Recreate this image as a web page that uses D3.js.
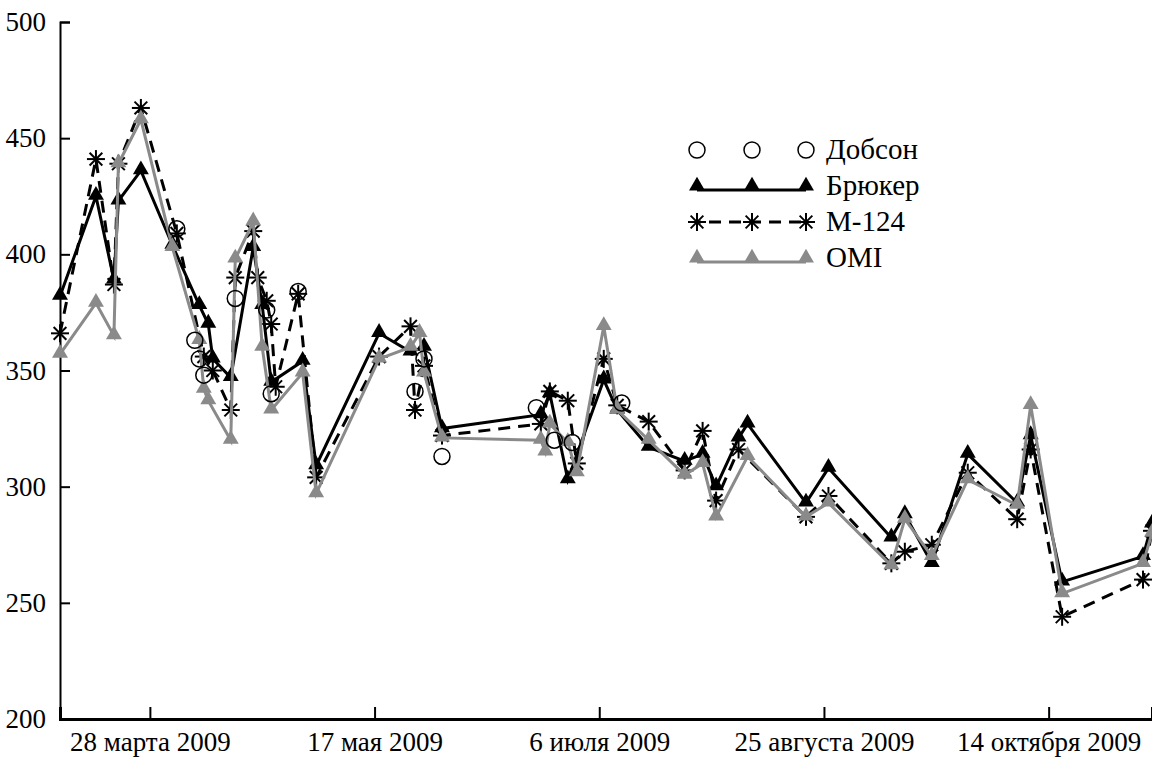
<!DOCTYPE html>
<html>
<head>
<meta charset="utf-8">
<script src="https://cdn.jsdelivr.net/npm/d3@7"></script>
<style>
  body { margin: 0; background: #fff; }
  text { font-family: "Liberation Serif", "Times New Roman", serif; fill: #000; }
</style>
</head>
<body>
<div class="chart"></div>
<script>
// --- data ---
var tickDates = ["2009-03-28", "2009-05-17", "2009-07-06", "2009-08-25", "2009-10-14"];
var tickLabels = ["28 марта 2009", "17 мая 2009", "6 июля 2009", "25 августа 2009", "14 октября 2009"];
var yTicks = [200, 250, 300, 350, 400, 450, 500];

var dobsonDates = ["2009-04-03", "2009-04-07", "2009-04-08", "2009-04-09", "2009-04-16", "2009-04-23", "2009-04-24",
    "2009-04-30", "2009-05-26", "2009-05-28", "2009-06-01", "2009-06-22", "2009-06-26", "2009-06-30", "2009-07-11"];
var dobsonValues = [411, 363, 355, 348, 381, 376, 340, 384, 341, 355, 313, 334, 320, 319, 336];

var brukerDates = ["2009-03-08", "2009-03-16", "2009-03-20", "2009-03-21", "2009-03-26", "2009-04-02", "2009-04-08",
    "2009-04-10", "2009-04-11", "2009-04-15", "2009-04-20", "2009-04-22", "2009-04-24", "2009-05-01", "2009-05-04",
    "2009-05-18", "2009-05-25", "2009-05-28", "2009-06-01", "2009-06-23", "2009-06-25", "2009-06-29", "2009-07-07",
    "2009-07-10", "2009-07-17", "2009-07-25", "2009-07-29", "2009-08-01", "2009-08-06", "2009-08-08", "2009-08-21",
    "2009-08-26", "2009-09-09", "2009-09-12", "2009-09-18", "2009-09-26", "2009-10-07", "2009-10-10", "2009-10-17",
    "2009-11-04", "2009-11-06"];
var brukerValues = [382, 425, 389, 423, 436, 404, 378, 370, 355, 347, 403, 378, 345, 354, 309,
    366, 358, 360, 325, 331, 340, 303, 346, 333, 317, 311, 314, 300, 321, 327, 293,
    308, 278, 288, 267, 314, 293, 322, 259, 270, 284];

var m124Dates = ["2009-03-08", "2009-03-16", "2009-03-20", "2009-03-21", "2009-03-26", "2009-04-03", "2009-04-09",
    "2009-04-11", "2009-04-15", "2009-04-16", "2009-04-20", "2009-04-21", "2009-04-23", "2009-04-24", "2009-04-25",
    "2009-04-30", "2009-05-04", "2009-05-18", "2009-05-25", "2009-05-26", "2009-05-28", "2009-06-01", "2009-06-23",
    "2009-06-25", "2009-06-29", "2009-07-01", "2009-07-07", "2009-07-10", "2009-07-17", "2009-07-25", "2009-07-29",
    "2009-08-01", "2009-08-06", "2009-08-21", "2009-08-26", "2009-09-09", "2009-09-12", "2009-09-18", "2009-09-26",
    "2009-10-07", "2009-10-10", "2009-10-17", "2009-11-04", "2009-11-06"];
var m124Values = [366, 441, 387, 439, 463, 409, 356, 350, 333, 390, 410, 390, 380, 370, 343,
    383, 304, 356, 369, 333, 352, 322, 327, 341, 337, 310, 355, 335, 328, 307, 324,
    294, 316, 287, 296, 267, 272, 275, 306, 286, 316, 244, 260, 281];

var omiDates = ["2009-03-08", "2009-03-16", "2009-03-20", "2009-03-21", "2009-03-26", "2009-04-02", "2009-04-08",
    "2009-04-09", "2009-04-10", "2009-04-15", "2009-04-16", "2009-04-20", "2009-04-22", "2009-04-24", "2009-05-01",
    "2009-05-04", "2009-05-18", "2009-05-25", "2009-05-27", "2009-05-28", "2009-06-01", "2009-06-23", "2009-06-24",
    "2009-06-25", "2009-06-29", "2009-07-01", "2009-07-07", "2009-07-10", "2009-07-17", "2009-07-25", "2009-07-29",
    "2009-08-01", "2009-08-08", "2009-08-21", "2009-08-26", "2009-09-09", "2009-09-12", "2009-09-18", "2009-09-26",
    "2009-10-07", "2009-10-10", "2009-10-17", "2009-11-04", "2009-11-06"];
var omiValues = [357, 379, 365, 439, 458, 403, 363, 342, 337, 320, 398, 414, 360, 333, 349,
    297, 355, 360, 366, 349, 321, 320, 315, 327, 319, 306, 369, 333, 320, 305, 310,
    287, 313, 287, 293, 266, 286, 270, 303, 292, 335, 254, 267, 280];

var legendNames = ["Добсон", "Брюкер", "М-124", "OMI"];

// --- layout ---
var W = 1152, H = 760;
var parse = d3.timeParse("%Y-%m-%d");
var grey = "#8a8a8a";

var x = d3.scaleTime()
    .domain([parse("2009-03-08"), parse("2009-11-06")])
    .range([60, 1152]);
var y = d3.scaleLinear()
    .domain([200, 500])
    .range([719, 22]);

var svg = d3.select(".chart").append("svg")
    .attr("width", W)
    .attr("height", H);

function pts(dates, values) {
    return dates.map(function (d, i) { return { date: parse(d), value: values[i] }; });
}
var dobson = pts(dobsonDates, dobsonValues),
    bruker = pts(brukerDates, brukerValues),
    m124 = pts(m124Dates, m124Values),
    omi = pts(omiDates, omiValues);

// axes
var yAxis = d3.axisLeft(y).tickValues(yTicks).tickSize(-10).tickPadding(14).tickFormat(d3.format("d"));
var gy = svg.append("g").attr("transform", "translate(60,0)").call(yAxis);
gy.select(".domain").attr("stroke", "#000").attr("stroke-width", 2);
gy.selectAll(".tick line").attr("stroke", "#000").attr("stroke-width", 2)
    .filter(function (d) { return d === 200; }).remove();
gy.selectAll(".tick text").style("font-size", "27px").style("font-family", "Liberation Serif");

var xAxis = d3.axisBottom(x).tickValues(tickDates.map(parse)).tickSize(-12).tickPadding(13)
    .tickFormat(function (d, i) { return tickLabels[i]; });
var gx = svg.append("g").attr("transform", "translate(0,719)").call(xAxis);
gx.select(".domain").attr("stroke", "#000").attr("stroke-width", 3);
gx.selectAll(".tick line").attr("stroke", "#000").attr("stroke-width", 2);
gx.selectAll(".tick text").style("font-size", "27px").style("font-family", "Liberation Serif");

// markers
var triPath = d3.symbol().type(d3.symbolTriangle).size(110);

function drawStar(g, cx, cy, r) {
    [0, 45, 90, 135].forEach(function (a) {
        var rad = a * Math.PI / 180;
        g.append("line")
            .attr("x1", cx - r * Math.cos(rad)).attr("y1", cy - r * Math.sin(rad))
            .attr("x2", cx + r * Math.cos(rad)).attr("y2", cy + r * Math.sin(rad))
            .attr("stroke", "#000").attr("stroke-width", 2);
    });
}

var line = d3.line()
    .x(function (d) { return x(d.date); })
    .y(function (d) { return y(d.value); });

// Брюкер
svg.append("path").datum(bruker)
    .attr("d", line).attr("fill", "none").attr("stroke", "#000").attr("stroke-width", 3);
svg.append("g").selectAll("path").data(bruker).enter().append("path")
    .attr("d", triPath)
    .attr("transform", function (d) { return "translate(" + x(d.date) + "," + (y(d.value) - 1) + ")"; })
    .attr("fill", "#000");

// М-124
svg.append("path").datum(m124)
    .attr("d", line).attr("fill", "none").attr("stroke", "#000").attr("stroke-width", 3)
    .attr("stroke-dasharray", "12,8");
var gs = svg.append("g");
m124.forEach(function (d) { drawStar(gs, x(d.date), y(d.value), 9); });

// OMI
svg.append("path").datum(omi)
    .attr("d", line).attr("fill", "none").attr("stroke", grey).attr("stroke-width", 3);
svg.append("g").selectAll("path").data(omi).enter().append("path")
    .attr("d", triPath)
    .attr("transform", function (d) { return "translate(" + x(d.date) + "," + (y(d.value) - 1) + ")"; })
    .attr("fill", grey);

// Добсон
svg.append("g").selectAll("circle").data(dobson).enter().append("circle")
    .attr("cx", function (d) { return x(d.date); })
    .attr("cy", function (d) { return y(d.value); })
    .attr("r", 8)
    .attr("fill", "none")
    .attr("stroke", "#000")
    .attr("stroke-width", 1.5);

// legend
var lg = svg.append("g");
var lx = [697, 752, 806];
legendNames.forEach(function (name, i) {
    var ly = 150 + i * 36;
    if (i === 1 || i === 3) {
        lg.append("line").attr("x1", lx[0]).attr("x2", lx[2]).attr("y1", ly + 4).attr("y2", ly + 4)
            .attr("stroke", i === 1 ? "#000" : grey).attr("stroke-width", 3);
    }
    if (i === 2) {
        lg.append("line").attr("x1", lx[0]).attr("x2", lx[2]).attr("y1", ly).attr("y2", ly)
            .attr("stroke", "#000").attr("stroke-width", 3).attr("stroke-dasharray", "12,8")
            .attr("stroke-dashoffset", -12);
    }
    lx.forEach(function (px) {
        if (i === 0) {
            lg.append("circle").attr("cx", px).attr("cy", ly).attr("r", 8)
                .attr("fill", "none").attr("stroke", "#000").attr("stroke-width", 1.5);
        } else if (i === 2) {
            drawStar(lg, px, ly, 9);
        } else {
            lg.append("path").attr("d", triPath)
                .attr("transform", "translate(" + px + "," + ly + ")")
                .attr("fill", i === 1 ? "#000" : grey);
        }
    });
    lg.append("text").attr("x", 826).attr("y", ly + 9)
        .style("font-size", "29px")
        .text(name);
});
</script>
</body>
</html>
